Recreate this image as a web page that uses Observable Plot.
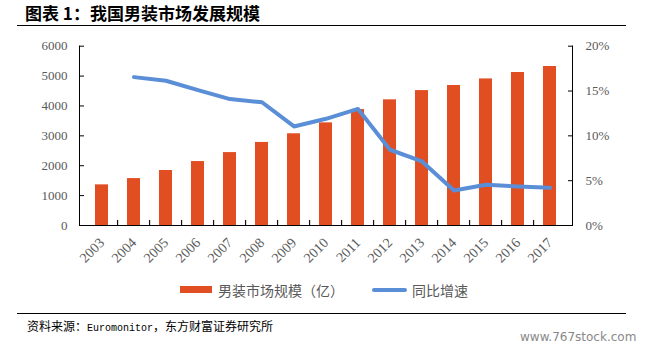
<!DOCTYPE html>
<html>
<head>
<meta charset="utf-8">
<script src="https://cdn.jsdelivr.net/npm/d3@7"></script>
<script src="https://cdn.jsdelivr.net/npm/@observablehq/plot@0.6"></script>
<style>
  html, body { margin: 0; padding: 0; background: #fff; }
  #wrap { position: relative; width: 650px; height: 349px; overflow: hidden; background: #fff; }
  #chart { position: absolute; left: 0; top: 0; }
  .title { position: absolute; left: 25px; top: 3px; font-family: "Noto Sans CJK SC", sans-serif; font-weight: 700; font-size: 17px; line-height: 20px; color: #000; white-space: nowrap; }
  .rule { position: absolute; left: 17px; width: 609px; height: 0; border-top: 1.5px solid #000; }
  .legend { position: absolute; top: 280px; left: 0; width: 650px; height: 20px; font-family: "Noto Sans CJK SC", sans-serif; font-size: 14px; color: #595959; }
  .legend span { position: absolute; white-space: nowrap; line-height: 20px; }
  .sw-bar { position: absolute; left: 180px; top: 6px; width: 32px; height: 7px; }
  .sw-line { position: absolute; left: 372px; top: 8px; width: 35px; height: 4px; border-radius: 2px; }
  .source { position: absolute; left: 27px; top: 318px; font-family: "Noto Sans CJK SC", sans-serif; font-size: 12px; line-height: 16px; color: #000; white-space: nowrap; }
  .source .en { font-family: "Liberation Mono", monospace; font-size: 10px; }
  .wm { position: absolute; left: 520px; top: 329px; font-family: "DejaVu Sans", sans-serif; font-size: 12px; line-height: 16px; color: #888; white-space: nowrap; }
</style>
</head>
<body>
<div id="wrap">
  <div class="title">图表 1：我国男装市场发展规模</div>
  <div class="rule" style="top:25px"></div>
  <div id="chart"></div>
  <div class="legend">
    <div class="sw-bar" id="swBar"></div><span style="left:218px">男装市场规模（亿）</span>
    <div class="sw-line" id="swLine"></div><span style="left:412px">同比增速</span>
  </div>
  <div class="rule" style="top:313px"></div>
  <div class="source">资料来源：<span class="en">Euromonitor</span>，东方财富证券研究所</div>
  <div class="wm">www.767stock.com</div>
</div>
<script>
// ---- data ----
const years = ["2003","2004","2005","2006","2007","2008","2009","2010","2011","2012","2013","2014","2015","2016","2017"];
const marketSize = [1360, 1570, 1840, 2140, 2440, 2780, 3070, 3435, 3880, 4205, 4515, 4685, 4905, 5120, 5320];
const growthPct = [null, 16.55, 16.15, 15.1, 14.1, 13.75, 11.05, 11.9, 13.0, 8.45, 7.15, 3.9, 4.55, 4.35, 4.2];
const leftTicks = [0, 1000, 2000, 3000, 4000, 5000, 6000];
const rightTicks = [0, 5, 10, 15, 20];

const barColor = "#E04E22";
const lineColor = "#5A8ED6";
const pctScale = 6000 / 20; // maps right axis (0–20%) onto left axis (0–6000)

document.getElementById("swBar").style.background = barColor;
document.getElementById("swLine").style.background = lineColor;

const rows = years.map((y, i) => ({year: y, size: marketSize[i], growth: growthPct[i]}));

const W = 650, H = 275, mL = 79, mR = 78, mT = 45.7, mB = 50;
const step = (W - mL - mR) / years.length;

const chart = Plot.plot({
  width: W,
  height: H,
  marginLeft: mL,
  marginRight: mR,
  marginTop: mT,
  marginBottom: mB,
  style: {fontFamily: "'Liberation Serif', serif", fontSize: "13px", color: "#595959", background: "transparent"},
  x: {type: "band", domain: years, paddingInner: 0.6, paddingOuter: 0.3, align: 0.5, label: null},
  y: {domain: [0, 6000], label: null},
  marks: [
    Plot.barY(rows, {x: "year", y: "size", fill: barColor}),
    Plot.lineY(rows.filter(d => d.growth != null), {x: "year", y: d => d.growth * pctScale, stroke: lineColor, strokeWidth: 4, strokeLinejoin: "round"}),
    Plot.frame({anchor: "left", stroke: "#000"}),
    Plot.frame({anchor: "right", stroke: "#000"}),
    Plot.frame({anchor: "bottom", stroke: "#000"}),
    Plot.ruleX(years.slice(1), {x: d => d, y1: 0, y2: 170, dx: -step / 2, stroke: "#111", strokeWidth: 1.2}),
    Plot.axisY({anchor: "left", ticks: leftTicks, tickSize: -5, tickPadding: 17, tickFormat: d => String(d), stroke: "#000", fill: "#595959", label: null}),
    Plot.axisY({anchor: "right", ticks: rightTicks.map(p => p * pctScale), tickSize: -5, tickPadding: 18, tickFormat: d => (d / pctScale) + "%", stroke: "#000", fill: "#595959", label: null}),
    Plot.axisX({anchor: "bottom", tickSize: 0, tickRotate: -45, tickPadding: 15, fontSize: 14, fill: "#595959", label: null})
  ]
});
document.getElementById("chart").appendChild(chart);
</script>
</body>
</html>
